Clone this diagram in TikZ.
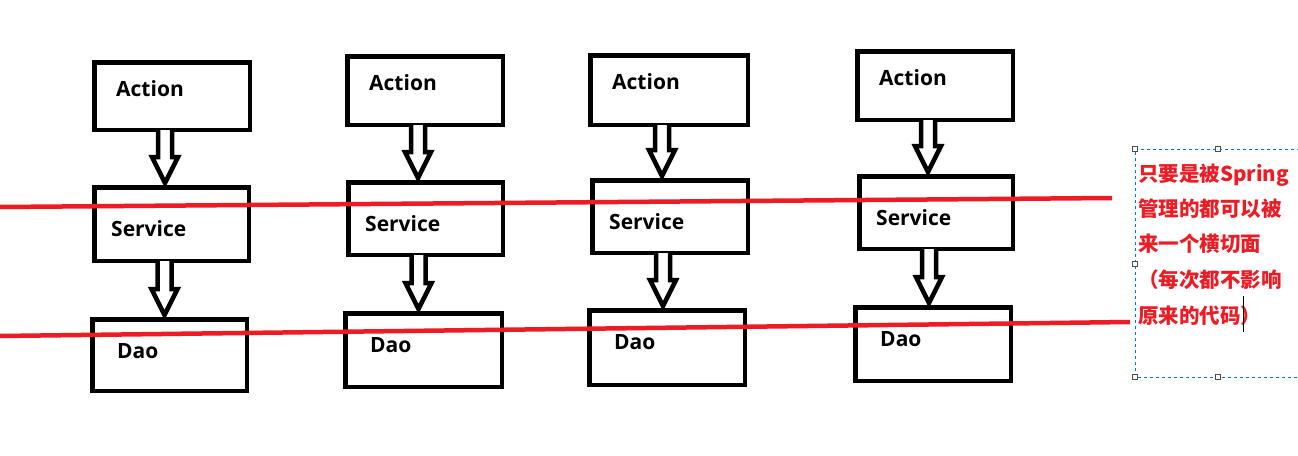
\documentclass[tikz,border=0pt]{standalone}
\usepackage{fontspec}
\setmainfont{Open Sans}
\newfontfamily\cjk{Noto Sans CJK SC}
\usetikzlibrary{calc}
\definecolor{cutred}{RGB}{237,28,36}
\definecolor{selblue}{RGB}{0,120,215}
\tikzset{
  layerbox/.style={draw=black, line width=4.5pt, fill=white, inner sep=0pt, anchor=north west},
  lbl/.style={font=\bfseries\fontsize{21}{24}\selectfont, anchor=base west, inner sep=0pt},
  hollowarr/.style={draw=black, line width=4.5pt, fill=white, line join=miter},
  redline/.style={draw=cutred, line width=4.5pt},
  note/.style={font=\cjk\bfseries\fontsize{20.5}{24}\selectfont, text=cutred, anchor=base west, inner sep=0pt},
  handle/.style={draw=black!70, line width=0.8pt, fill=white, minimum size=5pt, inner sep=0pt}
}
% box: name, x1, y1, x2, y2 (outer edges, px)
\newcommand{\layerbox}[5]{%
  \node[layerbox, minimum width={#4-#2-4.5}, minimum height={#5-#3-4.5}] (#1) at (#2,#3) {};}
\newcommand{\hollowarrow}[2]{%
  \path[hollowarr] let \p1=([xshift=-7pt,yshift=2pt]#1.south), \p2=([xshift=-7pt,yshift=2pt]#2.north) in
    ({\x1-7pt},\y1) -- ({\x1-7pt},{\y2+26pt}) -- ({\x1-13pt},{\y2+26pt}) -- (\x1,\y2)
    -- ({\x1+13pt},{\y2+26pt}) -- ({\x1+7pt},{\y2+26pt}) -- ({\x1+7pt},\y1);}
\begin{document}
\begin{tikzpicture}[x=1pt,y=-1pt]
\useasboundingbox[fill=white] (0,0) rectangle (1298,455);
% column 1
\layerbox{a1}{92}{60}{252}{132}
\layerbox{s1}{92}{185}{251}{263}
\layerbox{d1}{90}{317}{249}{393}
% column 2
\layerbox{a2}{345}{54}{505}{127}
\layerbox{s2}{346}{180}{505}{257}
\layerbox{d2}{343}{311}{504}{389}
% column 3
\layerbox{a3}{588}{53}{750}{127}
\layerbox{s3}{590}{178}{750}{255}
\layerbox{d3}{587}{308}{747}{387}
% column 4
\layerbox{a4}{855}{49}{1015}{122}
\layerbox{s4}{857}{174}{1015}{251}
\layerbox{d4}{853}{305}{1013}{383}
% labels
\foreach \c in {1,2,3,4}{
  \node[lbl] (ta\c) at ($(a\c.north west)+(24,36)$) {Action};
  \node[lbl] (ts\c) at ($(s\c.north west)+(19,51)$) {Service};
  \node[lbl] (td\c) at ($(d\c.north west)+(27,41)$) {Dao};
}
% arrows
\hollowarrow{a1}{s1}
\hollowarrow{s1}{d1}
\hollowarrow{a2}{s2}
\hollowarrow{s2}{d2}
\hollowarrow{a3}{s3}
\hollowarrow{s3}{d3}
\hollowarrow{a4}{s4}
\hollowarrow{s4}{d4}
% cut lines
\coordinate (c1l) at (0,207);
\coordinate (c1r) at (1112,198);
\coordinate (c2l) at (0,336);
\coordinate (c2r) at (1130,322);
\draw[redline] (c1l) -- (c1r);
\draw[redline] (c2l) -- (c2r);
% note box
\draw[selblue, line width=0.9pt, dash pattern=on 3pt off 3pt] (1300,149) -- (1135,149) -- (1135,377) -- (1300,377);
\node[note] (n1) at (1138,181) {只要是被Spring};
\node[note] (n2) at (1138,216) {管理的都可以被};
\node[note] (n3) at (1138,251) {来一个横切面};
\node[note] (n4) at (1138,287) {（每次都不影响};
\node[note] (n5) at (1138,323) {原来的代码）};
\draw[black, line width=1pt] (1243,296) -- (1243,332);
\foreach \hx/\hy [count=\i] in {1135/149,1218/149,1135/264,1135/377,1218/377}
  \node[handle] (h\i) at (\hx,\hy) {};
\end{tikzpicture}
\end{document}
